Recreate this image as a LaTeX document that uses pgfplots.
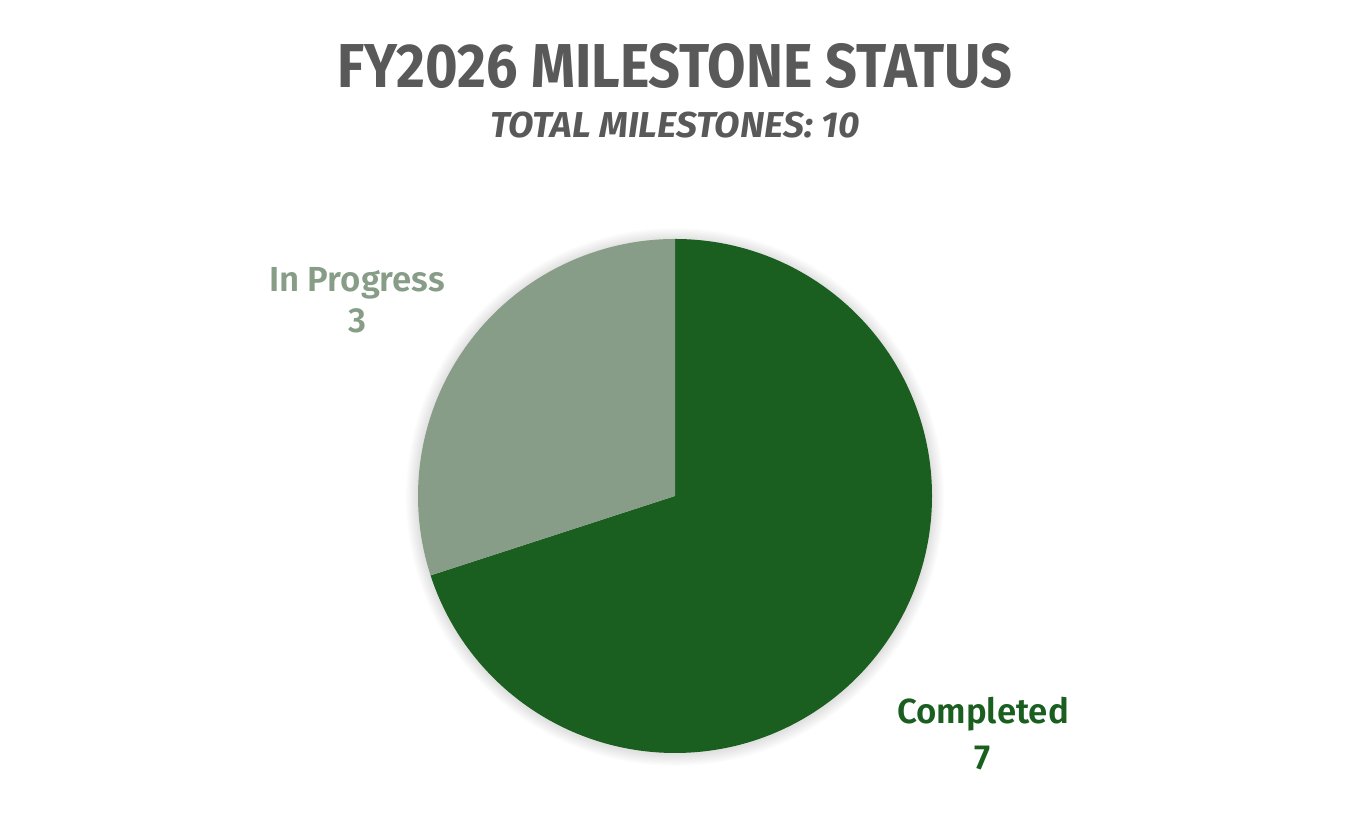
\documentclass[border=0pt]{standalone}
\usepackage{pgfplots}
\pgfplotsset{compat=1.18}
\usepackage{pgfplotstable}
\usepackage{fontspec}
\setmainfont{Fira Sans}
\newfontfamily\titlefont[FakeStretch=0.90]{Fira Sans Bold}
\newfontfamily\subfont[FakeStretch=1.03]{Fira Sans Bold Italic}
\newfontfamily\labfont{Fira Sans SemiBold}
\definecolor{titlegray}{HTML}{595959}
\definecolor{done}{HTML}{1A5E20}
\definecolor{prog}{HTML}{879D87}
\pgfplotstableread{
name value
Completed 7
InProgress 3
}\piedata
\begin{document}
\begin{tikzpicture}
\pgfplotstablegetelem{0}{value}\of\piedata \let\vA\pgfplotsretval
\pgfplotstablegetelem{1}{value}\of\piedata \let\vB\pgfplotsretval
\pgfmathsetmacro{\tot}{\vA+\vB}
\pgfmathsetmacro{\angA}{360*\vA/\tot}
\pgfmathsetmacro{\endA}{90-\angA}
\begin{axis}[
  width=675pt, height=419.5pt, scale only axis,
  xmin=0, xmax=1350, ymin=0, ymax=839,
  hide axis, clip=false,
]
% bounding box
\path (axis cs:0,0) (axis cs:1350,839);
% soft shadow
\pgfplotsinvokeforeach{1,...,10}{
  \fill[black, opacity=0.012] (axis cs:675,342) circle[radius={(128.5+0.6*#1)*1pt}];
}
% wedges
\fill[done] (axis cs:675,343) -- ++(90:128.5pt) arc[start angle=90, end angle=\endA, radius=128.5pt] -- cycle;
\fill[prog] (axis cs:675,343) -- ++(\endA:128.5pt) arc[start angle=\endA, end angle=-270, radius=128.5pt] -- cycle;
% titles
\node[anchor=base, text=titlegray, font=\titlefont\fontsize{31}{31}\selectfont] at (axis cs:675,751) {FY2026 MILESTONE STATUS};
\node[anchor=base, text=titlegray, font=\subfont\fontsize{18}{18}\selectfont] at (axis cs:675,701) {TOTAL MILESTONES: 10};
% labels
\node[anchor=base, text=prog, font=\labfont\fontsize{17.4}{17.4}\selectfont] at (axis cs:357,547) {In Progress};
\node[anchor=base, text=prog, font=\labfont\fontsize{17.4}{17.4}\selectfont] at (axis cs:357,506) {\vB};
\node[anchor=base, text=done, font=\labfont\fontsize{17.4}{17.4}\selectfont] at (axis cs:983,115) {Completed};
\node[anchor=base, text=done, font=\labfont\fontsize{17.4}{17.4}\selectfont] at (axis cs:983,69) {\vA};
\end{axis}
\end{tikzpicture}
\end{document}
